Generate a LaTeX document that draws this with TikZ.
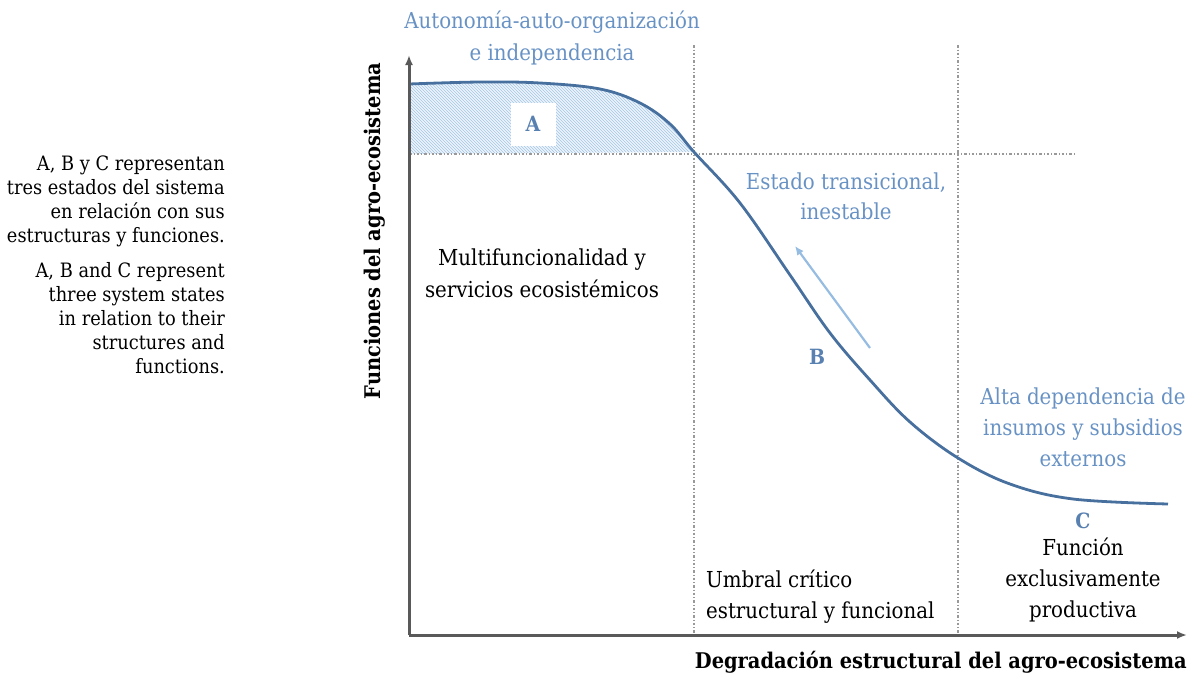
\documentclass[tikz,border=0pt]{standalone}
\usepackage{fontspec}
\setmainfont{DejaVu Serif Condensed}
\usetikzlibrary{arrows.meta,patterns}
\definecolor{curveblue}{RGB}{72,112,158}
\definecolor{textblue}{RGB}{104,146,196}
\definecolor{labelblue}{RGB}{88,128,176}
\definecolor{arrowblue}{RGB}{150,188,226}
\definecolor{hatchblue}{RGB}{165,200,235}
\begin{document}
\begin{tikzpicture}[x=1pt,y=-1pt,
  every node/.style={align=center,inner sep=0pt,font=\fontsize{22}{31}\selectfont},
  bluetext/.style={text=textblue},
  state/.style={text=labelblue,font=\fontsize{21}{24}\selectfont\bfseries},
  note/.style={align=right,anchor=east,font=\fontsize{19.8}{24}\selectfont},
  guide/.style={gray!80,line width=2.6pt,dash pattern=on 2.5pt off 2pt on 1pt off 2pt},
  axis/.style={black!65,line width=3pt,-{Latex[length=10pt,width=8pt]}},
  axislabel/.style={font=\fontsize{21.6}{24}\selectfont\bfseries}]
  \useasboundingbox (0,0) rectangle (1187,675);
  \coordinate (o) at (409,635);
  \coordinate (ytop) at (409,55);
  \coordinate (xend) at (1187,635);
  \coordinate (t1) at (694,45);  \coordinate (b1) at (694,635);
  \coordinate (t2) at (958,45);  \coordinate (b2) at (958,635);
  \coordinate (hl) at (409,154); \coordinate (hr) at (1075,154);
  % zona A
  \fill[hatchblue!20] (hl) -- plot[smooth,tension=0.6] coordinates
    {(409,84) (480,82) (540,83) (600,89) (640,103) (670,124) (694,152)} -- cycle;
  \fill[pattern=north west lines,pattern color=hatchblue] (hl) -- plot[smooth,tension=0.6] coordinates
    {(409,84) (480,82) (540,83) (600,89) (640,103) (670,124) (694,152)} -- cycle;
  \draw[guide] (t1) -- (b1);
  \draw[guide] (t2) -- (b2);
  \draw[guide] (hl) -- (hr);
  % curva
  \draw[curveblue,line width=2.8pt] plot[smooth,tension=0.6] coordinates
    {(409,84) (480,82) (540,83) (600,89) (640,103) (670,124) (694,152) (740,203)
     (790,275) (830,333) (870,380) (910,422) (958,458) (1010,484) (1073,499) (1168,504)};
  \draw[axis] (o) -- (ytop);
  \draw[axis] (o) -- (xend);
  \coordinate (from) at (870,348);
  \coordinate (to) at (795,246);
  \draw[arrowblue,line width=2.2pt,-{Latex[length=9pt,width=8pt]}] (from) -- (to);
  \node[state,fill=white,minimum width=45pt,minimum height=43pt] (A) at (533,124) {A};
  \node[state] (B) at (817,357) {B};
  \node[state] (C) at (1083,521) {C};
  \node[bluetext,font=\fontsize{22}{32}\selectfont] (auto) at (552,38) {Autonomía-auto-organización\\e independencia};
  \node[bluetext,font=\fontsize{22}{30}\selectfont] (trans) at (846,196) {Estado transicional,\\inestable};
  \node[bluetext] (alta) at (1083,427) {Alta dependencia de\\insumos y subsidios\\externos};
  \node[font=\fontsize{22}{32}\selectfont] (multi) at (542,273) {Multifuncionalidad y\\servicios ecosistémicos};
  \node (func) at (1083,580) {Función\\exclusivamente\\productiva};
  \node[anchor=west,align=left] (umbral) at (706,597) {Umbral crítico\\estructural y funcional};
  \node[note] (es) at (225,201) {A, B y C representan\\tres estados del sistema\\en relación con sus\\estructuras y funciones.};
  \node[note] (en) at (225,318) {A, B and C represent\\three system states\\in relation to their\\structures and\\functions.};
  \node[axislabel,rotate=90] (ylab) at (375,231) {Funciones del agro-ecosistema};
  \node[axislabel,anchor=east] (xlab) at (1187,662) {Degradación estructural del agro-ecosistema};
\end{tikzpicture}
\end{document}
